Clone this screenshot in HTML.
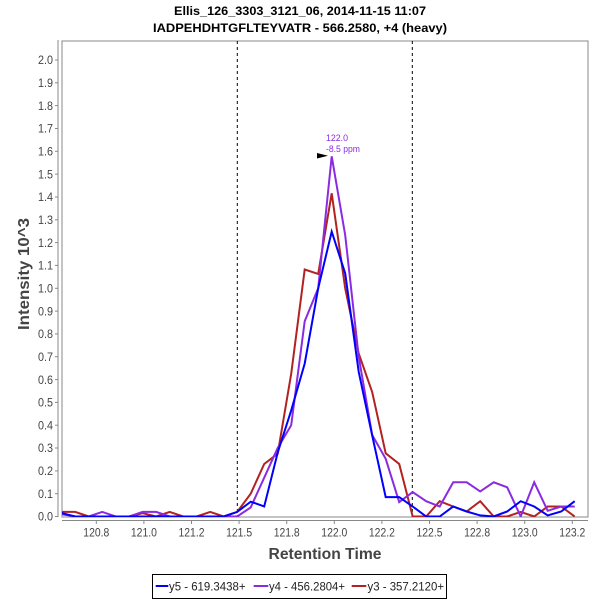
<!DOCTYPE html>
<html><head><meta charset="utf-8"><style>
html,body{margin:0;padding:0;background:#fff;}
svg{display:block;}
text{font-family:"Liberation Sans",Arial,sans-serif;}
</style></head><body>
<svg width="600" height="600" viewBox="0 0 600 600" xmlns="http://www.w3.org/2000/svg">
<rect width="600" height="600" fill="#fff"/>
<!-- titles -->
<text x="300" y="15" font-size="12" font-weight="bold" text-anchor="middle" textLength="252" lengthAdjust="spacingAndGlyphs" fill="#000">Ellis_126_3303_3121_06, 2014-11-15 11:07</text>
<text x="300" y="32" font-size="12" font-weight="bold" text-anchor="middle" textLength="294" lengthAdjust="spacingAndGlyphs" fill="#000">IADPEHDHTGFLTEYVATR - 566.2580, +4 (heavy)</text>

<!-- plot box -->
<rect x="62" y="41" width="526" height="476" fill="#fff" stroke="#888" stroke-width="1"/>
<!-- y axis line -->
<line x1="58" y1="40" x2="58" y2="517" stroke="#888" stroke-width="1"/>
<!-- x axis line -->
<line x1="62" y1="520.5" x2="588" y2="520.5" stroke="#888" stroke-width="1"/>

<!-- y ticks and labels -->
<g stroke="#888" stroke-width="1">
<line x1="55" y1="516.5" x2="58" y2="516.5"/><line x1="55" y1="493.7" x2="58" y2="493.7"/><line x1="55" y1="470.9" x2="58" y2="470.9"/><line x1="55" y1="448.0" x2="58" y2="448.0"/><line x1="55" y1="425.2" x2="58" y2="425.2"/><line x1="55" y1="402.4" x2="58" y2="402.4"/><line x1="55" y1="379.6" x2="58" y2="379.6"/><line x1="55" y1="356.7" x2="58" y2="356.7"/><line x1="55" y1="333.9" x2="58" y2="333.9"/><line x1="55" y1="311.1" x2="58" y2="311.1"/><line x1="55" y1="288.3" x2="58" y2="288.3"/><line x1="55" y1="265.4" x2="58" y2="265.4"/><line x1="55" y1="242.6" x2="58" y2="242.6"/><line x1="55" y1="219.8" x2="58" y2="219.8"/><line x1="55" y1="197.0" x2="58" y2="197.0"/><line x1="55" y1="174.1" x2="58" y2="174.1"/><line x1="55" y1="151.3" x2="58" y2="151.3"/><line x1="55" y1="128.5" x2="58" y2="128.5"/><line x1="55" y1="105.6" x2="58" y2="105.6"/><line x1="55" y1="82.8" x2="58" y2="82.8"/><line x1="55" y1="60.0" x2="58" y2="60.0"/>
</g>
<g font-size="12" fill="#444" text-anchor="end">
<text x="53" y="520.7" textLength="15" lengthAdjust="spacingAndGlyphs">0.0</text>
<text x="53" y="497.9" textLength="15" lengthAdjust="spacingAndGlyphs">0.1</text>
<text x="53" y="475.1" textLength="15" lengthAdjust="spacingAndGlyphs">0.2</text>
<text x="53" y="452.2" textLength="15" lengthAdjust="spacingAndGlyphs">0.3</text>
<text x="53" y="429.4" textLength="15" lengthAdjust="spacingAndGlyphs">0.4</text>
<text x="53" y="406.6" textLength="15" lengthAdjust="spacingAndGlyphs">0.5</text>
<text x="53" y="383.8" textLength="15" lengthAdjust="spacingAndGlyphs">0.6</text>
<text x="53" y="360.9" textLength="15" lengthAdjust="spacingAndGlyphs">0.7</text>
<text x="53" y="338.1" textLength="15" lengthAdjust="spacingAndGlyphs">0.8</text>
<text x="53" y="315.3" textLength="15" lengthAdjust="spacingAndGlyphs">0.9</text>
<text x="53" y="292.5" textLength="15" lengthAdjust="spacingAndGlyphs">1.0</text>
<text x="53" y="269.6" textLength="15" lengthAdjust="spacingAndGlyphs">1.1</text>
<text x="53" y="246.8" textLength="15" lengthAdjust="spacingAndGlyphs">1.2</text>
<text x="53" y="224.0" textLength="15" lengthAdjust="spacingAndGlyphs">1.3</text>
<text x="53" y="201.2" textLength="15" lengthAdjust="spacingAndGlyphs">1.4</text>
<text x="53" y="178.3" textLength="15" lengthAdjust="spacingAndGlyphs">1.5</text>
<text x="53" y="155.5" textLength="15" lengthAdjust="spacingAndGlyphs">1.6</text>
<text x="53" y="132.7" textLength="15" lengthAdjust="spacingAndGlyphs">1.7</text>
<text x="53" y="109.8" textLength="15" lengthAdjust="spacingAndGlyphs">1.8</text>
<text x="53" y="87.0" textLength="15" lengthAdjust="spacingAndGlyphs">1.9</text>
<text x="53" y="64.2" textLength="15" lengthAdjust="spacingAndGlyphs">2.0</text>
</g>

<!-- x ticks and labels -->
<g stroke="#888" stroke-width="1">
<line x1="96.3" y1="520.5" x2="96.3" y2="524"/><line x1="143.9" y1="520.5" x2="143.9" y2="524"/><line x1="191.5" y1="520.5" x2="191.5" y2="524"/><line x1="239.1" y1="520.5" x2="239.1" y2="524"/><line x1="286.7" y1="520.5" x2="286.7" y2="524"/><line x1="334.3" y1="520.5" x2="334.3" y2="524"/><line x1="381.9" y1="520.5" x2="381.9" y2="524"/><line x1="429.5" y1="520.5" x2="429.5" y2="524"/><line x1="477.1" y1="520.5" x2="477.1" y2="524"/><line x1="524.7" y1="520.5" x2="524.7" y2="524"/><line x1="572.3" y1="520.5" x2="572.3" y2="524"/>
</g>
<g font-size="12" fill="#444" text-anchor="middle">
<text x="96.3" y="536.5" textLength="26" lengthAdjust="spacingAndGlyphs">120.8</text>
<text x="143.9" y="536.5" textLength="26" lengthAdjust="spacingAndGlyphs">121.0</text>
<text x="191.5" y="536.5" textLength="26" lengthAdjust="spacingAndGlyphs">121.2</text>
<text x="239.1" y="536.5" textLength="26" lengthAdjust="spacingAndGlyphs">121.5</text>
<text x="286.7" y="536.5" textLength="26" lengthAdjust="spacingAndGlyphs">121.8</text>
<text x="334.3" y="536.5" textLength="26" lengthAdjust="spacingAndGlyphs">122.0</text>
<text x="381.9" y="536.5" textLength="26" lengthAdjust="spacingAndGlyphs">122.2</text>
<text x="429.5" y="536.5" textLength="26" lengthAdjust="spacingAndGlyphs">122.5</text>
<text x="477.1" y="536.5" textLength="26" lengthAdjust="spacingAndGlyphs">122.8</text>
<text x="524.7" y="536.5" textLength="26" lengthAdjust="spacingAndGlyphs">123.0</text>
<text x="572.3" y="536.5" textLength="26" lengthAdjust="spacingAndGlyphs">123.2</text>
</g>

<!-- axis titles -->
<text x="325" y="559" font-size="16" font-weight="bold" fill="#444" text-anchor="middle" textLength="113" lengthAdjust="spacingAndGlyphs">Retention Time</text>
<text transform="translate(29,274) rotate(-90)" font-size="16" font-weight="bold" fill="#444" text-anchor="middle" textLength="112" lengthAdjust="spacingAndGlyphs">Intensity 10^3</text>

<!-- dashed markers -->
<line x1="237.3" y1="41" x2="237.3" y2="517" stroke="#000" stroke-width="1" stroke-dasharray="3,3"/>
<line x1="412.3" y1="41" x2="412.3" y2="517" stroke="#000" stroke-width="1" stroke-dasharray="3,3"/>

<defs><clipPath id="pc"><rect x="62" y="41" width="526" height="476"/></clipPath></defs>
<g clip-path="url(#pc)" fill="none" stroke-width="2" stroke-linejoin="miter">
<!-- y3 red -->
<polyline stroke="#b22222" points="61.7,511.9 75.2,511.9 88.7,516.5 102.2,516.5 115.7,516.5 129.2,516.5 142.7,513.1 156.2,516.5 169.7,511.9 183.2,516.5 196.7,516.5 210.2,511.9 223.7,516.5 237.2,511.9 250.7,493.7 264.2,464.0 277.7,453.7 291.2,373.8 304.7,269.5 318.2,273.9 331.7,193.3 345.2,288.3 358.7,353.5 372.2,392.1 385.7,453.3 399.2,464.0 412.7,516.5 426.2,516.5 439.7,501.2 453.2,506.5 466.7,511.5 480.2,501.2 493.7,516.5 507.2,516.5 520.7,511.9 534.2,516.5 547.7,506.5 561.2,506.5 574.7,516.5"/>
<!-- y4 purple -->
<polyline stroke="#8a2be2" points="61.7,514.2 75.2,516.5 88.7,516.5 102.2,511.9 115.7,516.5 129.2,516.5 142.7,511.9 156.2,511.9 169.7,516.5 183.2,516.5 196.7,516.5 210.2,516.5 223.7,516.5 237.2,516.5 250.7,507.4 264.2,477.7 277.7,448.0 291.2,425.2 304.7,321.3 318.2,288.3 331.7,156.3 345.2,235.1 358.7,356.7 372.2,435.0 385.7,458.8 399.2,502.1 412.7,492.1 426.2,501.2 439.7,506.5 453.2,482.3 466.7,482.3 480.2,491.4 493.7,482.3 507.2,487.3 520.7,516.5 534.2,482.3 547.7,510.8 561.2,506.5 574.7,506.5"/>
<!-- y5 blue -->
<polyline stroke="#0000ff" points="61.7,513.1 75.2,516.5 88.7,516.5 102.2,516.5 115.7,516.5 129.2,516.5 142.7,516.5 156.2,516.5 169.7,516.5 183.2,516.5 196.7,516.5 210.2,516.5 223.7,516.5 237.2,511.9 250.7,501.7 264.2,506.5 277.7,452.6 291.2,410.4 304.7,363.6 318.2,288.3 331.7,231.6 345.2,273.4 358.7,371.8 372.2,435.5 385.7,497.1 399.2,497.1 412.7,506.5 426.2,516.5 439.7,516.5 453.2,506.5 466.7,511.5 480.2,515.4 493.7,516.5 507.2,511.5 520.7,501.2 534.2,506.5 547.7,515.4 561.2,511.5 574.7,501.2"/>
</g>

<!-- peak annotation -->
<text x="326" y="141" font-size="9" fill="#8a2be2" textLength="22" lengthAdjust="spacingAndGlyphs">122.0</text>
<text x="326" y="152" font-size="9" fill="#8a2be2" textLength="34" lengthAdjust="spacingAndGlyphs">-8.5 ppm</text>
<polygon points="317,153 328,155.7 317,158.5" fill="#000"/>

<!-- legend -->
<rect x="152.5" y="574.5" width="294" height="24" fill="#fff" stroke="#000" stroke-width="1"/>
<line x1="155.7" y1="586" x2="168.3" y2="586" stroke="#0000ff" stroke-width="2"/>
<text x="169" y="590.5" font-size="12" fill="#222" textLength="76.5" lengthAdjust="spacingAndGlyphs">y5 - 619.3438+</text>
<line x1="253.7" y1="586" x2="268.3" y2="586" stroke="#8a2be2" stroke-width="2"/>
<text x="269" y="590.5" font-size="12" fill="#222" textLength="76" lengthAdjust="spacingAndGlyphs">y4 - 456.2804+</text>
<line x1="351.7" y1="586" x2="366.3" y2="586" stroke="#b22222" stroke-width="2"/>
<text x="367.5" y="590.5" font-size="12" fill="#222" textLength="76.5" lengthAdjust="spacingAndGlyphs">y3 - 357.2120+</text>
</svg>
</body></html>
